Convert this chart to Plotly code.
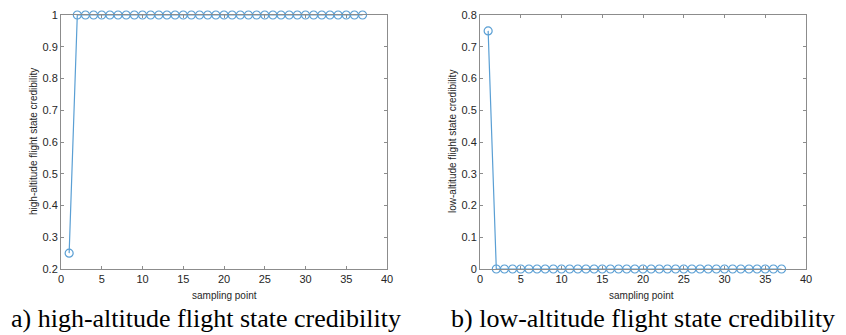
import plotly.graph_objects as go

sampling_points = list(range(1, 38))
high_credibility = [0.25] + [1.0] * 36
low_credibility = [0.75] + [0.0] * 36

left_ticks = [0.2, 0.3, 0.4, 0.5, 0.6, 0.7, 0.8, 0.9, 1]
left_tick_text = ["0.2", "0.3", "0.4", "0.5", "0.6", "0.7", "0.8", "0.9", "1"]
right_ticks = [0, 0.1, 0.2, 0.3, 0.4, 0.5, 0.6, 0.7, 0.8]
right_tick_text = ["0", "0.1", "0.2", "0.3", "0.4", "0.5", "0.6", "0.7", "0.8"]
x_ticks = [0, 5, 10, 15, 20, 25, 30, 35, 40]

# the page body has an 8px margin, so the figure starts 8px in from the window edge
OFF = 8
W, H = 846 - OFF, 335 - OFF
line_color = "#5A9FD4"
sans = "Liberation Sans, Arial"
serif = "Liberation Serif, Times New Roman"


def px(x):
    return (x - OFF) / W


def py(y):
    return (H - (y - OFF)) / H


fig = go.Figure()
for ys, xa, ya in [(high_credibility, "x", "y"), (low_credibility, "x2", "y2")]:
    fig.add_trace(go.Scatter(x=sampling_points, y=ys, mode="lines+markers",
                             line=dict(color=line_color, width=1.2),
                             marker=dict(symbol="circle-open", size=8, color=line_color,
                                         line=dict(width=1.2)),
                             xaxis=xa, yaxis=ya, showlegend=False, cliponaxis=False))

ax_common = dict(showline=True, linecolor="#8c8c8c", linewidth=1, mirror="allticks",
                 ticks="inside", ticklen=3, tickcolor="#8c8c8c", showgrid=False, zeroline=False,
                 automargin=False, ticklabeloverflow="allow",
                 tickfont=dict(family=sans, size=11, color="#262626"))

ydom = [py(269), py(15)]
fig.update_layout(
    template="none",
    width=W, height=H, margin=dict(l=0, r=0, t=0, b=0, pad=0),
    paper_bgcolor="white", plot_bgcolor="white",
    xaxis=dict(domain=[px(61), px(387)], range=[0, 40], tickvals=x_ticks, anchor="y", **ax_common),
    yaxis=dict(domain=ydom, range=[0.2, 1], tickvals=left_ticks, ticktext=left_tick_text,
               anchor="x", **ax_common),
    xaxis2=dict(domain=[px(480), px(806)], range=[0, 40], tickvals=x_ticks, anchor="y2", **ax_common),
    yaxis2=dict(domain=ydom, range=[0, 0.8], tickvals=right_ticks, ticktext=right_tick_text,
                anchor="x2", **ax_common),
)

ann = [
    ("sampling point", px(224), py(295), 0, sans, 10, "#262626"),
    ("sampling point", px(641), py(295), 0, sans, 10, "#262626"),
    ("high-altitude flight state credibility", px(34), py(142), -90, sans, 10, "#262626"),
    ("low-altitude flight state credibility", px(453), py(142), -90, sans, 10, "#262626"),
    ("a) high-altitude flight state credibility", px(206), py(318), 0, serif, 26, "black"),
    ("b) low-altitude flight state credibility", px(643), py(318), 0, serif, 26, "black"),
]
fig.update_layout(annotations=[
    dict(text=t, x=x, y=y, xref="paper", yref="paper", showarrow=False, textangle=a,
         xanchor="center", yanchor="middle", font=dict(family=f, size=s, color=c))
    for t, x, y, a, f, s, c in ann
])

fig.write_html("out.html")
